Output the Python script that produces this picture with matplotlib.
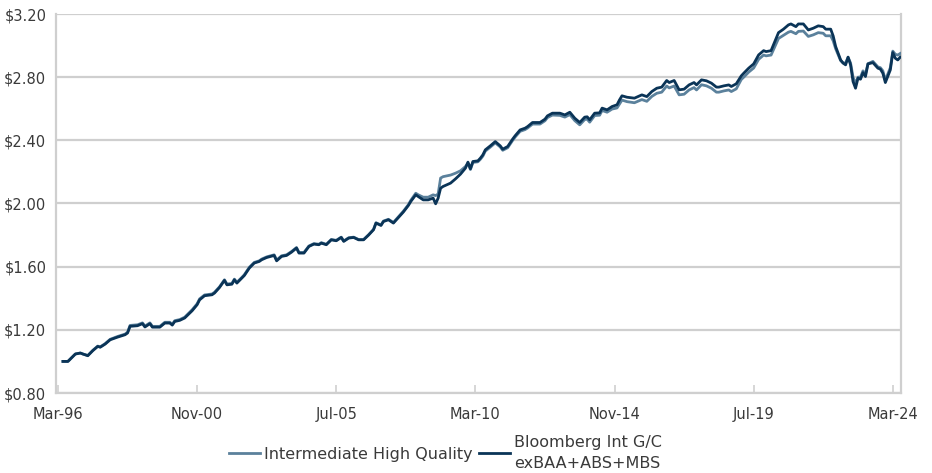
import matplotlib
matplotlib.use("Agg")
import matplotlib.pyplot as plt
from matplotlib.ticker import FuncFormatter

# growth of $1, month index counted from Mar-96
months = [
    2, 4, 7, 9, 10, 12, 14, 16, 17, 19, 21, 24, 27, 28, 29, 32, 34, 35, 37, 38,
    41, 43, 45, 46, 47, 49, 51, 53, 54, 56, 57, 59, 62, 63, 65, 67, 68, 70, 71, 72,
    74, 75, 77, 79, 81, 82, 84, 87, 88, 90, 92, 94, 96, 97, 99, 101, 103, 105, 106, 108,
    110, 112, 114, 115, 117, 119, 121, 123, 125, 127, 128, 130, 131, 133, 135, 137, 139, 141, 142, 144,
    145, 147, 149, 151, 152, 153, 154, 155, 158, 160, 162, 164, 165, 166, 167, 169, 170, 171, 172, 174,
    176, 178, 179, 181, 183, 184, 186, 188, 189, 191, 194, 196, 197, 199, 202, 204, 206, 208, 210, 212,
    213, 214, 216, 218, 219, 221, 223, 225, 226, 227, 229, 232, 235, 237, 239, 241, 243, 245, 246, 248,
    250, 252, 254, 256, 257, 259, 261, 263, 265, 266, 268, 270, 271, 273, 275, 276, 278, 280, 282, 284,
    285, 287, 290, 292, 294, 295, 297, 298, 300, 302, 304, 306, 308, 309, 311, 312, 313, 315, 316, 317,
    318, 319, 320, 321, 322, 323, 324, 325, 326, 328, 330, 331, 332, 333, 335, 336, 337, 338, 339,
]

bbg_int_gc = [
    1.000, 1.000, 1.047, 1.053, 1.047, 1.036, 1.068, 1.095, 1.090, 1.110, 1.137, 1.154, 1.169, 1.180, 1.222, 1.226, 1.239, 1.218, 1.239, 1.217,
    1.217, 1.243, 1.243, 1.230, 1.253, 1.260, 1.275, 1.306, 1.321, 1.359, 1.390, 1.416, 1.422, 1.433, 1.468, 1.513, 1.485, 1.489, 1.517, 1.496,
    1.528, 1.544, 1.591, 1.623, 1.633, 1.644, 1.658, 1.671, 1.637, 1.665, 1.671, 1.692, 1.718, 1.686, 1.686, 1.728, 1.743, 1.739, 1.749, 1.739,
    1.770, 1.764, 1.785, 1.760, 1.781, 1.785, 1.770, 1.770, 1.800, 1.834, 1.876, 1.861, 1.886, 1.897, 1.876, 1.911, 1.946, 1.987, 2.013, 2.055,
    2.044, 2.023, 2.023, 2.034, 1.998, 2.034, 2.097, 2.108, 2.129, 2.156, 2.186, 2.224, 2.262, 2.220, 2.266, 2.270, 2.287, 2.308, 2.340, 2.365,
    2.392, 2.365, 2.344, 2.361, 2.408, 2.429, 2.466, 2.477, 2.487, 2.513, 2.513, 2.534, 2.555, 2.572, 2.572, 2.561, 2.578, 2.540, 2.513, 2.547,
    2.549, 2.530, 2.572, 2.574, 2.604, 2.593, 2.614, 2.625, 2.656, 2.682, 2.673, 2.667, 2.688, 2.677, 2.709, 2.730, 2.737, 2.779, 2.766, 2.779,
    2.720, 2.724, 2.751, 2.766, 2.751, 2.783, 2.777, 2.762, 2.737, 2.737, 2.745, 2.751, 2.741, 2.758, 2.808, 2.825, 2.857, 2.884, 2.941, 2.968,
    2.962, 2.968, 3.082, 3.104, 3.131, 3.137, 3.120, 3.137, 3.137, 3.099, 3.110, 3.125, 3.120, 3.104, 3.104, 3.061, 2.994, 2.909, 2.889, 2.878,
    2.927, 2.878, 2.772, 2.730, 2.794, 2.787, 2.829, 2.804, 2.884, 2.892, 2.857, 2.851, 2.825, 2.766, 2.846, 2.956, 2.920, 2.909, 2.927,
]

int_high_quality = [
    1.000, 1.000, 1.047, 1.053, 1.047, 1.038, 1.070, 1.097, 1.092, 1.113, 1.140, 1.158, 1.173, 1.185, 1.228, 1.232, 1.244, 1.224, 1.244, 1.222,
    1.222, 1.248, 1.248, 1.235, 1.258, 1.265, 1.280, 1.311, 1.327, 1.365, 1.396, 1.421, 1.427, 1.438, 1.472, 1.517, 1.490, 1.494, 1.521, 1.501,
    1.532, 1.549, 1.596, 1.627, 1.637, 1.648, 1.662, 1.675, 1.642, 1.669, 1.675, 1.696, 1.721, 1.690, 1.690, 1.731, 1.746, 1.742, 1.752, 1.742,
    1.772, 1.767, 1.787, 1.763, 1.783, 1.787, 1.772, 1.772, 1.802, 1.836, 1.878, 1.864, 1.889, 1.900, 1.880, 1.915, 1.951, 1.992, 2.020, 2.065,
    2.055, 2.040, 2.040, 2.055, 2.050, 2.060, 2.161, 2.170, 2.180, 2.192, 2.207, 2.234, 2.255, 2.215, 2.260, 2.264, 2.280, 2.300, 2.332, 2.357,
    2.384, 2.358, 2.337, 2.353, 2.400, 2.421, 2.457, 2.468, 2.478, 2.503, 2.503, 2.524, 2.544, 2.560, 2.558, 2.547, 2.563, 2.525, 2.498, 2.532,
    2.534, 2.515, 2.557, 2.559, 2.589, 2.578, 2.598, 2.605, 2.630, 2.655, 2.645, 2.638, 2.658, 2.647, 2.678, 2.698, 2.705, 2.744, 2.732, 2.744,
    2.688, 2.692, 2.719, 2.734, 2.719, 2.752, 2.745, 2.730, 2.705, 2.705, 2.713, 2.719, 2.709, 2.726, 2.785, 2.800, 2.832, 2.858, 2.913, 2.940,
    2.935, 2.940, 3.045, 3.065, 3.085, 3.090, 3.075, 3.090, 3.092, 3.058, 3.068, 3.082, 3.078, 3.062, 3.062, 3.030, 2.980, 2.905, 2.890, 2.890,
    2.925, 2.890, 2.800, 2.760, 2.800, 2.800, 2.840, 2.820, 2.885, 2.900, 2.865, 2.860, 2.840, 2.780, 2.860, 2.965, 2.945, 2.940, 2.950,
]

tick_months = [0, 56, 112, 168, 224, 280, 336]
tick_labels = ["Mar-96", "Nov-00", "Jul-05", "Mar-10", "Nov-14", "Jul-19", "Mar-24"]
y_ticks = [0.80, 1.20, 1.60, 2.00, 2.40, 2.80, 3.20]

LIGHT = "#5b819c"
DARK = "#0a3457"
GRID = "#cfcfcf"
TEXT = "#3a3a3a"

plt.rcParams["font.family"] = ["DejaVu Sans"]

fig = plt.figure(figsize=(9.32, 4.73), dpi=100)
ax = fig.add_axes([56 / 932, 1 - 393 / 473, (901 - 56) / 932, (393 - 14) / 473])

ax.plot(months, int_high_quality, color=LIGHT, lw=2.0, solid_joinstyle="round",
        label="Intermediate High Quality", zorder=3)
ax.plot(months, bbg_int_gc, color=DARK, lw=2.0, solid_joinstyle="round",
        label="Bloomberg Int G/C\nexBAA+ABS+MBS", zorder=4)

ax.set_xlim(-0.8, 339.3)
ax.set_ylim(0.80, 3.20)
ax.set_yticks(y_ticks)
ax.yaxis.set_major_formatter(FuncFormatter(lambda v, _: f"${v:.2f}"))
ax.set_xticks(tick_months)
ax.set_xticklabels(tick_labels)

ax.grid(axis="y", color=GRID, lw=1.6, zorder=0)
ax.set_axisbelow(True)
for side in ["left", "right", "bottom"]:
    ax.spines[side].set_color(GRID)
    ax.spines[side].set_linewidth(1.6)
ax.spines["top"].set_visible(False)

ax.tick_params(axis="y", length=0, pad=7, labelsize=10.5, labelcolor=TEXT)
ax.tick_params(axis="x", direction="in", length=6, width=1.2, color=GRID,
               pad=10, labelsize=10.5, labelcolor=TEXT)

leg = fig.legend(loc="center", bbox_to_anchor=(0.478, 1 - 453 / 473), ncol=2,
                 frameon=False, fontsize=11.5, handlelength=1.9, handletextpad=0.25,
                 columnspacing=0.45, labelcolor=TEXT)
for txt in leg.get_texts():
    txt.set_linespacing(1.55)

fig.savefig("out.png", dpi=100)
